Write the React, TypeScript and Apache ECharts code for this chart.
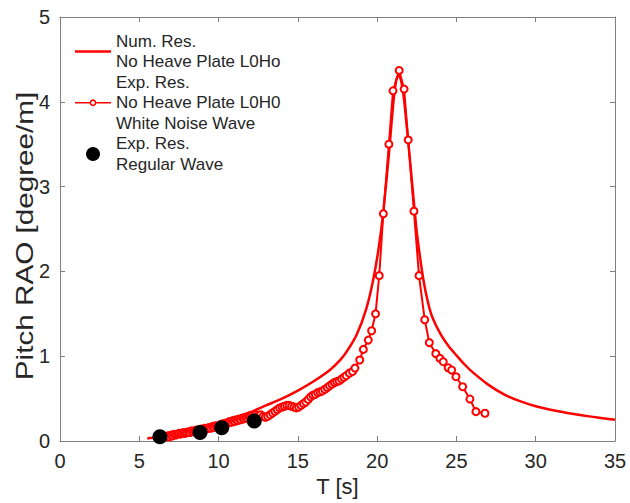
import React, { useEffect, useRef } from "react";
import * as echarts from "echarts";

// Num. Res. (T [s], RAO)
const numT = [5.5, 6, 7, 8, 9, 10, 11, 12, 13, 14, 15, 16, 17, 17.65, 18.1, 18.7, 19.3, 19.75, 20.1, 20.4, 20.75, 21.0, 21.2, 21.35, 21.5, 21.7, 22.0, 22.35, 22.5, 22.9, 23.2, 23.5, 24, 24.5, 25, 25.5, 26, 27, 28, 29, 30, 31, 32, 33, 34, 35];
const numY = [0.03, 0.04, 0.065, 0.095, 0.14, 0.2, 0.27, 0.34, 0.42, 0.5, 0.595, 0.705, 0.835, 0.95, 1.06, 1.25, 1.55, 1.9, 2.28, 2.72, 3.4, 3.95, 4.25, 4.32, 4.26, 4.02, 3.45, 2.75, 2.46, 1.92, 1.64, 1.45, 1.26, 1.12, 1.01, 0.905, 0.815, 0.665, 0.55, 0.47, 0.41, 0.365, 0.33, 0.3, 0.275, 0.25];

// Exp. Res. white noise wave
const wnT = [6.7, 6.8, 6.9, 7.0, 7.1, 7.2, 7.3, 7.4, 7.5, 7.6, 7.7, 7.8, 7.9, 8.0, 8.1, 8.2, 8.3, 8.4, 8.5, 8.6, 8.7, 8.8, 8.9, 9.0, 9.1, 9.2, 9.3, 9.4, 9.5, 9.6, 9.7, 9.8, 9.9, 10.0, 10.1, 10.2, 10.3, 10.4, 10.5, 10.6, 10.7, 10.8, 10.9, 11.0, 11.1, 11.2, 11.3, 11.4, 11.5, 11.6, 11.7, 11.8, 11.9, 12.0, 12.1, 12.2, 12.35, 12.5, 12.65, 12.8, 12.95, 13.1, 13.25, 13.4, 13.55, 13.7, 13.85, 14.0, 14.15, 14.3, 14.45, 14.6, 14.75, 14.9, 15.05, 15.2, 15.35, 15.5, 15.65, 15.8, 15.95, 16.1, 16.25, 16.4, 16.55, 16.7, 16.85, 17.0, 17.15, 17.3, 17.45, 17.6, 17.75, 17.9, 18.05, 18.25, 18.45, 18.6, 18.9, 19.13, 19.44, 19.65, 19.9, 20.13, 20.39, 20.74, 21.0, 21.39, 21.7, 21.96, 22.32, 22.64, 23.0, 23.29, 23.7, 23.96, 24.17, 24.48, 24.7, 24.97, 25.39, 25.85, 26.23, 26.8];
const wnY = [0.05, 0.06, 0.05, 0.07, 0.06, 0.08, 0.07, 0.08, 0.09, 0.08, 0.09, 0.1, 0.09, 0.1, 0.11, 0.1, 0.12, 0.11, 0.12, 0.13, 0.12, 0.13, 0.14, 0.13, 0.15, 0.14, 0.15, 0.16, 0.15, 0.17, 0.16, 0.18, 0.17, 0.18, 0.19, 0.2, 0.19, 0.21, 0.2, 0.22, 0.23, 0.22, 0.24, 0.23, 0.25, 0.24, 0.26, 0.25, 0.27, 0.26, 0.28, 0.27, 0.29, 0.28, 0.3, 0.29, 0.31, 0.3, 0.31, 0.29, 0.28, 0.29, 0.31, 0.33, 0.35, 0.37, 0.39, 0.4, 0.41, 0.42, 0.42, 0.41, 0.4, 0.39, 0.4, 0.42, 0.44, 0.46, 0.49, 0.52, 0.54, 0.55, 0.57, 0.58, 0.59, 0.61, 0.63, 0.65, 0.67, 0.69, 0.7, 0.71, 0.73, 0.75, 0.77, 0.8, 0.82, 0.86, 0.955, 1.08, 1.19, 1.3, 1.5, 1.95, 2.68, 3.5, 4.13, 4.37, 4.15, 3.55, 2.71, 1.95, 1.43, 1.16, 1.03, 0.975, 0.935, 0.864, 0.837, 0.758, 0.64, 0.495, 0.346, 0.327];

// Exp. Res. regular wave
const regT = [6.3, 8.83, 10.2, 12.25];
const regY = [0.05, 0.1, 0.157, 0.236];

const names = [
  "Num. Res.\nNo Heave Plate L0Ho",
  "Exp. Res.\nNo Heave Plate L0H0\nWhite Noise Wave",
  "Exp. Res.\nRegular Wave",
];
const yTitle = "Pitch RAO [degree/m]";
const xTitle = "T [s]";

const FONT = "Liberation Sans, Arial, Helvetica, sans-serif";
const TXT = "#262626";
const AX = "#808080";
const RED = "#ff0000";

// legend icons (drawn 36 px wide)
const ICON_LINE = "path://M0,0 L36,0 L36,2.4 L0,2.4 Z";
const ICON_LINE_MARK =
  "path://M0,2.6 L14.6,2.6 L14.6,4.2 L0,4.2 Z M21.4,2.6 L36,2.6 L36,4.2 L21.4,4.2 Z " +
  "M18,0 A3.4,3.4 0 1,1 17.99,0 Z M18,1.6 A1.8,1.8 0 1,0 18.01,1.6 Z";

export default function App() {
  const ref = useRef<HTMLDivElement>(null);
  useEffect(() => {
    if (!ref.current) return;
    document.body.style.margin = "0";
    const chart = echarts.init(ref.current, undefined, { renderer: "svg" });
    const zip = (a: number[], b: number[]) => a.map((v, i) => [v, b[i]]);
    const axisBase = {
      axisLine: { show: true, onZero: false, lineStyle: { color: AX, width: 1 } },
      axisTick: { show: true, inside: true, length: 5, lineStyle: { color: AX } },
      splitLine: { show: false },
    };
    chart.setOption({
      animation: false,
      backgroundColor: "#ffffff",
      textStyle: { fontFamily: FONT },
      grid: { left: 60, right: 15, top: 17, bottom: 62, containLabel: false },
      graphic: [
        {
          type: "text",
          x: 25,
          y: 236,
          rotation: Math.PI / 2,
          scaleX: 1.29,
          style: {
            text: yTitle,
            fontFamily: FONT,
            fontSize: 23,
            fill: TXT,
            align: "center",
            verticalAlign: "middle",
          },
        },
      ],
      legend: {
        orient: "vertical",
        left: 70,
        top: 26,
        itemWidth: 36,
        itemHeight: 14,
        itemGap: 0,
        data: [
          { name: names[0], icon: ICON_LINE, itemStyle: { color: RED, borderWidth: 0 } },
          { name: names[1], icon: ICON_LINE_MARK, itemStyle: { color: RED, borderWidth: 0 } },
          { name: names[2], icon: "circle", itemStyle: { color: "#000000", opacity: 1 } },
        ],
        textStyle: { fontFamily: FONT, fontSize: 17, color: TXT, lineHeight: 20.5 },
      },
      xAxis: [
        {
          type: "value",
          min: 0,
          max: 35,
          interval: 5,
          name: xTitle,
          nameLocation: "middle",
          nameGap: 34,
          nameTextStyle: { fontFamily: FONT, fontSize: 22, color: TXT },
          axisLabel: { fontFamily: FONT, fontSize: 20, color: TXT, margin: 10 },
          ...axisBase,
        },
        {
          type: "value",
          position: "top",
          min: 0,
          max: 35,
          interval: 5,
          axisLabel: { show: false },
          ...axisBase,
        },
      ],
      yAxis: [
        {
          type: "value",
          min: 0,
          max: 5,
          interval: 1,
          axisLabel: { fontFamily: FONT, fontSize: 20, color: TXT, margin: 10 },
          ...axisBase,
        },
        {
          type: "value",
          position: "right",
          min: 0,
          max: 5,
          interval: 1,
          axisLabel: { show: false },
          ...axisBase,
        },
      ],
      series: [
        {
          name: names[0],
          type: "line",
          data: zip(numT, numY),
          showSymbol: false,
          symbol: "none",
          smooth: 0.2,
          lineStyle: { color: RED, width: 2.5 },
          itemStyle: { color: RED },
        },
        {
          name: names[1],
          type: "line",
          data: zip(wnT, wnY),
          symbol: "emptyCircle",
          symbolSize: 7,
          showAllSymbol: true,
          lineStyle: { color: RED, width: 2 },
          itemStyle: { color: RED, borderColor: RED, borderWidth: 1.6 },
        },
        {
          name: names[2],
          type: "scatter",
          data: zip(regT, regY),
          symbol: "circle",
          symbolSize: 15,
          itemStyle: { color: "#000000", opacity: 1 },
          z: 5,
        },
      ],
    });
    return () => chart.dispose();
  }, []);
  return <div ref={ref} style={{ width: 630, height: 503 }} />;
}
